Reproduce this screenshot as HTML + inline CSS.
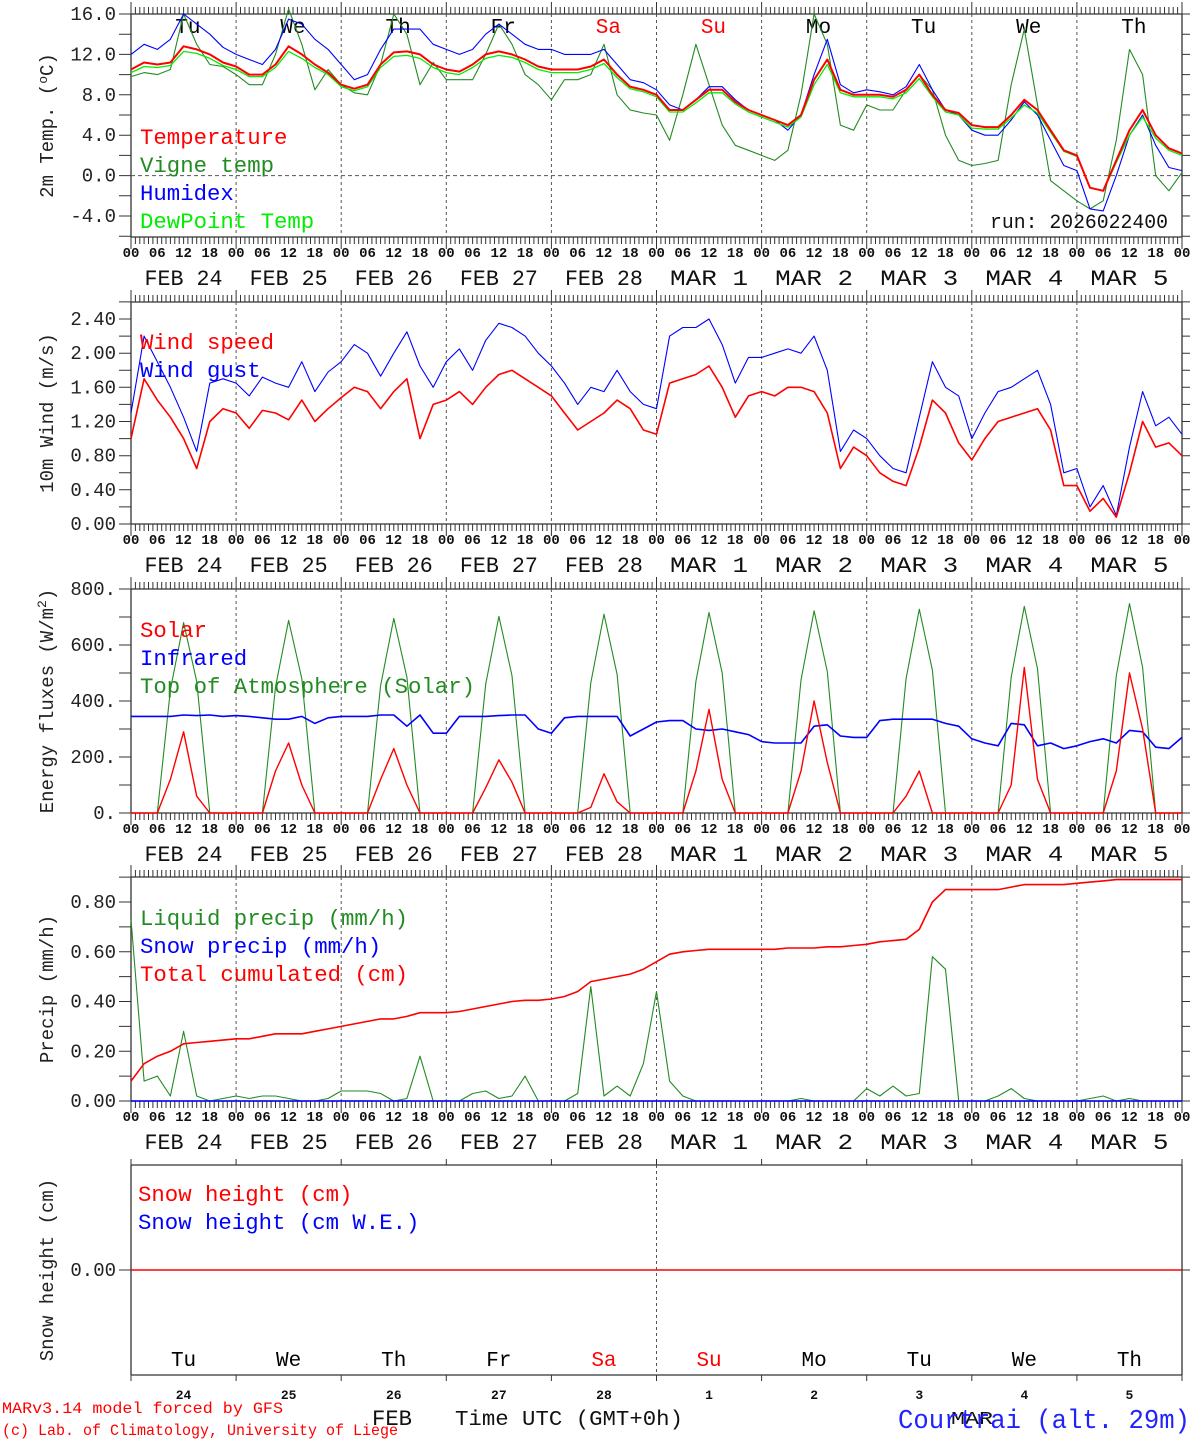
<!DOCTYPE html>
<html><head><meta charset="utf-8"><style>
html,body{margin:0;padding:0;background:#fff}
svg{display:block;font-family:"Liberation Mono",monospace}
</style></head><body>
<svg id="chart" width="1194" height="1440" viewBox="0 0 1194 1440" xmlns="http://www.w3.org/2000/svg"></svg>
<script>
// ---------- data (3-hourly, 81 points from Feb 24 00h to Mar 6 00h) ----------
const dayNames = ["Tu","We","Th","Fr","Sa","Su","Mo","Tu","We","Th"];
const dayColors = ["#000","#000","#000","#000","red","red","#000","#000","#000","#000"];
const dateLabels = ["FEB 24","FEB 25","FEB 26","FEB 27","FEB 28","MAR  1","MAR  2","MAR  3","MAR  4","MAR  5"];
const dayNums = ["24","25","26","27","28","1","2","3","4","5"];
const hourLabels = ["00","06","12","18"];

const temp = [10.5,11.2,11,11.2,12.8,12.5,12,11.2, 10.8,10,10,11,12.8,12,11,10.2, 9,8.6,9,11,12.2,12.3,12,11,
 10.5,10.3,11,12,12.3,12,11.5,10.8, 10.5,10.5,10.5,10.8,11.5,10,8.8,8.5, 8,6.5,6.5,7.5,8.5,8.5,7.3,6.5,
 6,5.5,5,6,9.5,11.5,8.5,8, 8,8,7.8,8.5,10,8,6.5,6.2, 5,4.8,4.8,6,7.5,6.5,4.5,2.5, 2,-1.2,-1.5,1.5,4.5,6.5,4,2.7,2.2];
const humidex = [12,13,12.5,13.5,16,15,14,12.7, 12,11.5,11,12.5,15.5,15,13.5,12.5, 11,9.5,10,12.5,14.5,14.5,14.5,13,
 12.5,12,12.5,14,15,14,13,12.5, 12.5,12,12,12,12.5,11,9.5,9.2, 8.5,7,6.5,7.5,8.8,8.8,7.5,6.5,
 6,5.5,4.5,6,10,13.5,9,8.2, 8.5,8.3,8,8.8,11,8.5,6.5,6, 4.5,4,4,5.5,7.3,6,3.5,1, 0.5,-3.3,-3.5,0,4,6,3,0.8,0.5];
const vigne = [9.8,10.2,10,10.5,16,13,11,10.8, 10,9,9,12,16.5,13,8.5,10.5, 9,8.2,8,11,16,14,9,11.2,
 9.5,9.5,9.5,12,15,13,10,9, 7.5,9.5,9.5,10,13,8,6.5,6.2, 6,3.5,8,13,9,5,3,2.5,
 2,1.5,2.5,8,16,13,5,4.5, 7,6.5,6.5,8.5,10,8.5,4,1.5, 1,1.2,1.5,9,14.5,7,-0.5,-1.5, -2.5,-3.3,-2.5,3.5,12.5,10,0,-1.5,0.3];
const dewpt = [10.2,10.8,10.7,10.9,12.3,12.1,11.6,10.9, 10.5,9.8,9.8,10.7,12.3,11.6,10.7,10, 8.8,8.4,8.8,10.7,11.8,11.9,11.6,10.7,
 10.2,10,10.7,11.6,11.9,11.7,11.2,10.5, 10.2,10.2,10.2,10.5,11.1,9.7,8.6,8.3, 7.8,6.3,6.3,7.2,8.2,8.2,7.1,6.3,
 5.8,5.3,4.8,5.8,9,11,8.2,7.8, 7.8,7.8,7.6,8.2,9.6,7.8,6.3,6, 4.7,4.6,4.6,5.7,7,6.2,4.3,2.4, 1.9,-1.2,-1.5,1.3,4,5.8,3.7,2.5,2];

const wind = [1.0,1.7,1.45,1.25,1.0,0.65,1.2,1.35, 1.3,1.12,1.33,1.3,1.22,1.45,1.2,1.35, 1.48,1.6,1.55,1.35,1.55,1.7,1.0,1.4,
 1.45,1.55,1.4,1.6,1.75,1.8,1.7,1.6, 1.5,1.3,1.1,1.2,1.3,1.45,1.35,1.1, 1.05,1.65,1.7,1.75,1.85,1.6,1.25,1.5,
 1.55,1.5,1.6,1.6,1.55,1.3,0.65,0.9, 0.8,0.6,0.5,0.45,0.9,1.45,1.3,0.95, 0.75,1.0,1.2,1.25,1.3,1.35,1.1,0.45, 0.45,0.15,0.3,0.08,0.6,1.2,0.9,0.95,0.8];
const gust = [1.3,2.2,1.9,1.6,1.25,0.85,1.65,1.7, 1.65,1.5,1.72,1.65,1.6,1.9,1.55,1.78, 1.9,2.1,2.0,1.73,2.0,2.25,1.85,1.6,
 1.9,2.05,1.8,2.15,2.35,2.3,2.2,2.0, 1.85,1.65,1.4,1.6,1.55,1.8,1.55,1.4, 1.35,2.2,2.3,2.3,2.4,2.1,1.65,1.95,
 1.95,2.0,2.05,2.0,2.2,1.8,0.85,1.1, 1.0,0.8,0.65,0.6,1.25,1.9,1.6,1.5, 1.0,1.3,1.55,1.6,1.7,1.8,1.4,0.6, 0.65,0.2,0.45,0.1,0.9,1.55,1.15,1.25,1.05];

const solar = [0,0,0,120,290,60,0,0, 0,0,0,150,250,100,0,0, 0,0,0,120,230,100,0,0, 0,0,0,90,190,110,0,0, 0,0,0,20,140,40,0,0,
 0,0,0,150,370,120,0,0, 0,0,0,150,400,180,0,0, 0,0,0,60,150,0,0,0, 0,0,0,100,520,120,0,0, 0,0,0,150,500,300,0,0,0];
const infrared = [345,345,345,345,350,348,350,345, 348,345,340,335,335,345,320,340, 345,345,345,350,350,310,350,285,
 285,345,345,345,348,350,350,300, 285,340,345,345,345,345,275,300, 325,330,330,300,295,300,290,280,
 255,250,250,250,310,315,275,270, 270,330,335,335,335,335,320,310, 265,250,240,320,315,240,250,230, 240,255,265,250,295,290,235,230,270];
const toa = [0,0,0,440,680,470,0,0, 0,0,0,450,688,480,0,0, 0,0,0,455,695,485,0,0, 0,0,0,460,702,490,0,0, 0,0,0,465,710,495,0,0,
 0,0,0,470,716,500,0,0, 0,0,0,475,722,505,0,0, 0,0,0,480,728,510,0,0, 0,0,0,485,738,515,0,0, 0,0,0,490,748,520,0,0,0];

const liquid = [0.73,0.08,0.1,0.02,0.28,0.02,0,0.01, 0.02,0.01,0.02,0.02,0.01,0,0,0.01, 0.04,0.04,0.04,0.03,0.0,0.01,0.18,0,
 0,0,0.03,0.04,0.01,0.02,0.1,0, 0,0,0.03,0.46,0.02,0.06,0.02,0.15, 0.44,0.08,0.02,0,0,0,0,0,
 0,0,0,0.01,0,0,0,0, 0.05,0.02,0.06,0.02,0.03,0.58,0.53,0, 0,0,0.02,0.05,0.01,0,0,0, 0,0.01,0.02,0,0.01,0,0,0,0];
const snowPrecip = [0,0,0,0,0,0,0,0, 0,0,0,0,0,0,0,0, 0,0,0,0,0,0,0,0, 0,0,0,0,0,0,0,0, 0,0,0,0,0,0,0,0,
 0,0,0,0,0,0,0,0, 0,0,0,0,0,0,0,0, 0,0,0,0,0,0,0,0, 0,0,0,0,0,0,0,0, 0,0,0,0,0,0,0,0,0];
const cumul = [0.08,0.15,0.18,0.2,0.23,0.235,0.24,0.245, 0.25,0.25,0.26,0.27,0.27,0.27,0.28,0.29, 0.3,0.31,0.32,0.33,0.33,0.34,0.355,0.355,
 0.355,0.36,0.37,0.38,0.39,0.4,0.405,0.405, 0.41,0.42,0.44,0.48,0.49,0.5,0.51,0.53, 0.56,0.59,0.6,0.605,0.61,0.61,0.61,0.61,
 0.61,0.61,0.615,0.615,0.615,0.62,0.62,0.625, 0.63,0.64,0.645,0.65,0.69,0.8,0.85,0.85, 0.85,0.85,0.85,0.86,0.87,0.87,0.87,0.87, 0.875,0.88,0.885,0.89,0.89,0.89,0.89,0.89,0.89];
const snowHeight = [0,0];

// ---------- drawing ----------
const NS = "http://www.w3.org/2000/svg";
const svg = document.getElementById("chart");
const X0 = 131, X1 = 1182;
function xH(h){ return X0 + h*(X1-X0)/240; }
function mk(tag, attrs, parent){ const e=document.createElementNS(NS,tag); for(const k in attrs) e.setAttribute(k,attrs[k]); (parent||svg).appendChild(e); return e; }
function txt(s, x, y, size, color, anchor, parent, len){ const a={x:x,y:y,"font-size":size,fill:color,"text-anchor":anchor||"start"};
  if(len){ a.textLength=len; a.lengthAdjust="spacingAndGlyphs"; }
  const t=mk("text",a,parent); t.setAttribute('xml:space','preserve'); t.textContent=s; return t; }

function panel(cfg){
  const g = mk("g",{});
  
  
  const yS = v => cfg.y0 + (v-cfg.vmin)*(cfg.y1-cfg.y0)/(cfg.vmax-cfg.vmin);
  const fr = mk("path",{d:`M${X0},${cfg.top}H${X1}M${X0},${cfg.bot}H${X1}M${X0},${cfg.top}V${cfg.bot}M${X1},${cfg.top}V${cfg.bot}`,stroke:"#333","stroke-width":1.3,fill:"none"},g);
  
  
  let d="";
  if(cfg.hourTicks){
    for(let h=0;h<=240;h++){ const x=xH(h).toFixed(1); const L=(h%24===0)?12:7;
      d+=`M${x},${cfg.top}V${cfg.top-L}M${x},${cfg.bot}V${cfg.bot+L}`; }
  } else {
    for(let i=0;i<=10;i++){ const x=xH(i*24).toFixed(1); d+=`M${x},${cfg.top}V${cfg.top-6}M${x},${cfg.bot}V${cfg.bot+6}`; }
  }
  const tk = mk("path",{d:d,stroke:"#333","stroke-width":1},g);
  
  
  let dd="";
  const days = cfg.dividers || [1,2,3,4,5,6,7,8,9];
  days.forEach(i=>{ const x=xH(i*24).toFixed(1); dd+=`M${x},${cfg.top}V${cfg.bot}`; });
  const dv = mk("path",{d:dd,stroke:"#555","stroke-width":1,"stroke-dasharray":"3,3"},g);
  
  
  let yd="";
  const lo=Math.min(cfg.vmin,cfg.vmax), hi=Math.max(cfg.vmin,cfg.vmax);
  for(let v=cfg.tickStart; v<=cfg.tickEnd+1e-9; v+=cfg.minor){ const y=yS(v);
    yd+=`M${X0},${y.toFixed(1)}H${X0-12}M${X1},${y.toFixed(1)}H${X1+8}`; }
  const yt = mk("path",{d:yd,stroke:"#333","stroke-width":1},g);
  
  
  cfg.labels.forEach(v=>{ const s=cfg.dot? (v.toFixed(0)+".") : v.toFixed(cfg.dec);
    const t=txt(s,X0-15,yS(v)+6,19,"#222","end",g);
    
     });
  const cy=(cfg.top+cfg.bot)/2;
  const yt2 = mk("text",{x:0,y:0,"font-size":19,fill:"#222","text-anchor":"middle",transform:`translate(${cfg.titleX||53},${cy}) rotate(-90)`},g);
  yt2.innerHTML = cfg.title;
  
  
  if(cfg.hourTicks){
    for(let i=0;i<=40;i++){ const t=txt(hourLabels[i%4], xH(i*6), cfg.bot+20, 14, "#111","middle",g);
      t.setAttribute('font-weight','bold');
      
       }
    dateLabels.forEach((s,i)=>{ const t=txt(s, xH(i*24+12), cfg.bot+48, 22, "#111","middle",g,78);
      
       });
  }
  return {g, yS};
}
function series(p, arr, color, width, name){
  let d=""; arr.forEach((v,i)=>{ d+=(i?"L":"M")+xH(i*3).toFixed(1)+","+p.yS(v).toFixed(1); });
  const e=mk("path",{d:d,stroke:color,"stroke-width":width,fill:"none","stroke-linejoin":"round"},p.g);
  
  
}
function legend(p, items, x, y0, step){
  items.forEach((it,i)=>{ const t=txt(it[0], x, y0+i*step, 22, it[1], "start", p.g, it[0].length*13.4);
    
     });
}

// Panel 1: temperature
const p1 = panel({name:"temperature-panel",top:14,bot:237,y0:14,y1:216,vmin:16,vmax:-4,minor:2,tickStart:-6,tickEnd:16,labels:[16,12,8,4,0,-4],dec:1,title:"2m Temp. (<tspan font-size='13' dy='-6'>o</tspan><tspan dy='6'>C)</tspan>",hourTicks:true});
const zl = mk("line",{x1:X0,x2:X1,y1:p1.yS(0),y2:p1.yS(0),stroke:"#555","stroke-dasharray":"4,3"},p1.g);


dayNames.forEach((s,i)=>{ const t=txt(s, xH(i*24+13), 33, 21, dayColors[i], "middle", p1.g);
  
   });
series(p1, vigne, "#228B22", 1.1, "vigne-temp-line");
series(p1, humidex, "#0000ff", 1.1, "humidex-line");
series(p1, dewpt, "#00ee00", 1.3, "dewpoint-line");
series(p1, temp, "#ff0000", 2, "temperature-line");
legend(p1, [["Temperature","#ff0000"],["Vigne temp","#228B22"],["Humidex","#0000ff"],["DewPoint Temp","#00ee00"]], 140, 144, 28);
{ const t=txt("run: 2026022400", 1168, 228, 20, "#111", "end", p1.g, 178);
  
   }

// Panel 2: wind
const p2 = panel({name:"wind-panel",top:302,bot:524,y0:524,y1:319,vmin:0,vmax:2.4,minor:0.2,tickStart:0,tickEnd:2.6,labels:[0,0.4,0.8,1.2,1.6,2.0,2.4],dec:2,title:"10m Wind (m/s)",hourTicks:true});
series(p2, gust, "#0000ff", 1.1, "wind-gust-line");
series(p2, wind, "#ff0000", 1.6, "wind-speed-line");
legend(p2, [["Wind speed","#ff0000"],["Wind gust","#0000ff"]], 140, 349, 28);

// Panel 3: energy fluxes
const p3 = panel({name:"energy-panel",top:589,bot:813,y0:813,y1:589,vmin:0,vmax:800,minor:100,tickStart:0,tickEnd:800,labels:[0,200,400,600,800],dec:0,dot:true,title:"Energy fluxes (W/m<tspan font-size='13' dy='-7'>2</tspan><tspan dy='7'>)</tspan>",hourTicks:true});
series(p3, toa, "#228B22", 1.1, "toa-solar-line");
series(p3, infrared, "#0000ff", 1.6, "infrared-line");
series(p3, solar, "#ff0000", 1.4, "solar-line");
legend(p3, [["Solar","#ff0000"],["Infrared","#0000ff"],["Top of Atmosphere (Solar)","#228B22"]], 140, 637, 28);

// Panel 4: precipitation
const p4 = panel({name:"precip-panel",top:877,bot:1101,y0:1101,y1:902,vmin:0,vmax:0.8,minor:0.1,tickStart:0,tickEnd:0.9,labels:[0,0.2,0.4,0.6,0.8],dec:2,title:"Precip (mm/h)",hourTicks:true});
series(p4, liquid, "#228B22", 1.1, "liquid-precip-line");
series(p4, snowPrecip, "#0000ff", 1.6, "snow-precip-line");
series(p4, cumul, "#ff0000", 1.6, "cumulated-precip-line");
legend(p4, [["Liquid precip (mm/h)","#228B22"],["Snow precip (mm/h)","#0000ff"],["Total cumulated (cm)","#ff0000"]], 140, 925, 28);

// Panel 5: snow height
const p5 = panel({name:"snow-panel",top:1165,bot:1375,y0:1270,y1:1166,vmin:0,vmax:1,minor:10,tickStart:0,tickEnd:0,labels:[0],dec:2,title:"Snow height (cm)",hourTicks:false,dividers:[5]});
(function(){ const e=mk("line",{x1:X0,x2:X1,y1:p5.yS(snowHeight[0]),y2:p5.yS(snowHeight[1]),stroke:"#ff0000","stroke-width":1.4},p5.g);
  
   })();
legend(p5, [["Snow height (cm)","#ff0000"],["Snow height (cm W.E.)","#0000ff"]], 138, 1201, 28);
dayNames.forEach((s,i)=>{ const t=txt(s, xH(i*24+12), 1366, 21, dayColors[i], "middle", p5.g);
  
   });
dayNums.forEach((s,i)=>{ const t=txt(s, xH(i*24+12), 1399, 13, "#111", "middle", p5.g);
  t.setAttribute('font-weight','bold');
  
   });

// footer
[["FEB",392,1425,22,"#111","middle","month-label",40],["MAR",972,1424,18,"#111","middle","month-label",42],
 ["Time UTC (GMT+0h)",455,1425,21,"#111","start","x-axis-title",228],
 ["MARv3.14 model forced by GFS",2,1413,16,"#ff0000","start","credit-line",281],
 ["(c) Lab. of Climatology, University of Liege",2,1435,16,"#ff0000","start","credit-line",396],
 ["Courtrai (alt. 29m)",1190,1428,27,"#2222ff","end","station-title",292]].forEach(a=>{
  const t=txt(a[0],a[1],a[2],a[3],a[4],a[5],undefined,a[7]);
  
  
});
</script>
</body></html>
